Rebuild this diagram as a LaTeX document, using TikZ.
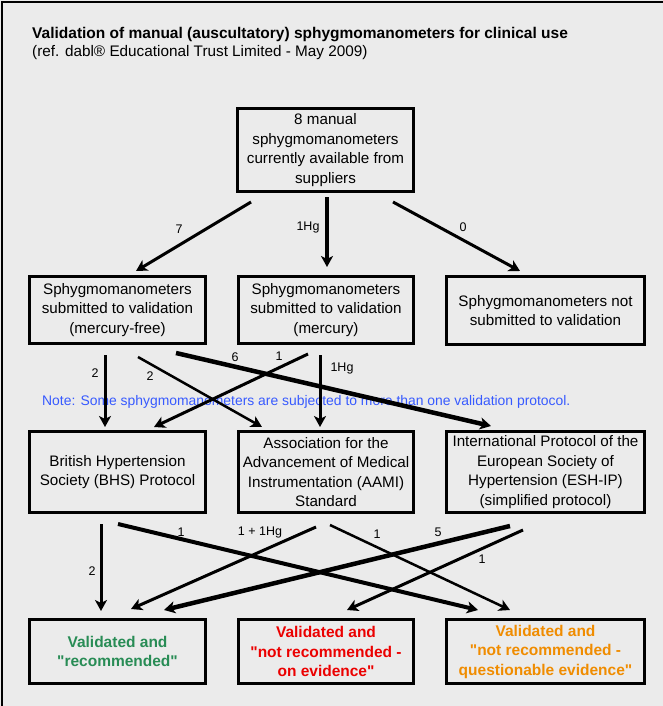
\documentclass[tikz,border=0pt]{standalone}
\usepackage{fontspec}
\setmainfont{Liberation Sans}
\newfontfamily\plainsans{Liberation Sans}
\usetikzlibrary{arrows.meta}
\definecolor{bg}{HTML}{EBEBEB}
\definecolor{okgreen}{RGB}{40,140,85}
\definecolor{nored}{RGB}{235,0,0}
\definecolor{qorange}{RGB}{240,140,0}
\definecolor{noteblue}{RGB}{55,90,255}
\begin{document}
\begin{tikzpicture}[x=1pt,y=-1pt,
 box/.style={draw=black, line width=3pt, fill=bg, align=center, inner sep=2pt, font=\fontsize{15.2}{19.5}\selectfont},
 res/.style={box, font=\plainsans\fontsize{15.5}{19.5}\selectfont\bfseries},
 arr/.style={line width=3pt, -{Stealth[length=11pt,width=12pt,inset=3pt]}},
 lbl/.style={font=\fontsize{12.5}{14}\selectfont, inner sep=0pt}]
\useasboundingbox (0,0) rectangle (663,706);
\fill[bg] (0,0) rectangle (663,706);
\draw[line width=2pt] (2,706) -- (2,2.5) -- (663,2.5);

\node[anchor=base west, inner sep=0pt, font=\fontsize{15.5}{17}\selectfont\bfseries] (title) at (32,39) {Validation of manual (auscultatory) sphygmomanometers for clinical use};
\node[anchor=base west, inner sep=0pt, font=\fontsize{15.3}{17}\selectfont] (subtitle) at (32,57) {(ref. dabl® Educational Trust Limited - May 2009)};

\node[box, minimum width=176pt, minimum height=83pt] (src) at (325.5,150) {8 manual\\sphygmomanometers\\currently available from\\suppliers};

\node[box, minimum width=176pt, minimum height=67pt] (mfree) at (117.5,310) {Sphygmomanometers\\submitted to validation\\(mercury-free)};
\node[box, minimum width=175pt, minimum height=67pt] (merc) at (326,310) {Sphygmomanometers\\submitted to validation\\(mercury)};
\node[box, minimum width=198pt, minimum height=68pt] (notsub) at (545.5,310.5) {Sphygmomanometers not\\submitted to validation};

\node[box, minimum width=176pt, minimum height=81pt] (bhs) at (117.5,472) {British Hypertension\\Society (BHS) Protocol};
\node[box, minimum width=175pt, minimum height=81pt] (aami) at (326,472) {Association for the\\Advancement of Medical\\Instrumentation (AAMI)\\Standard};
\node[box, minimum width=198pt, minimum height=81pt] (esh) at (545.5,472) {International Protocol of the\\European Society of\\Hypertension (ESH-IP)\\(simplified protocol)};

\node[res, text=okgreen, minimum width=176pt, minimum height=64pt] (rec) at (117.5,651.5) {Validated and\\"recommended"};
\node[res, text=nored, minimum width=175pt, minimum height=64pt] (notrec) at (326,651.5) {Validated and\\"not recommended -\\on evidence"};
\node[res, text=qorange, minimum width=198pt, minimum height=64pt] (quest) at (545.5,651.5) {Validated and\\"not recommended -\\questionable evidence"};

\node[anchor=base west, inner sep=0pt, text=noteblue, font=\fontsize{13.9}{16}\selectfont] (note) at (42,405) {Note: Some sphygmomanometers are subjected to more than one validation protocol.};

% row 1 -> row 2
\coordinate (a1s) at (251,202); \coordinate (a1e) at (136,271);
\coordinate (a2s) at (327,197); \coordinate (a2e) at (327,267);
\coordinate (a3s) at (393,202); \coordinate (a3e) at (520,271);
\draw[arr] (a1s) -- (a1e);
\draw[arr, line width=3.5pt] (a2s) -- (a2e);
\draw[arr] (a3s) -- (a3e);
\node[lbl] (l1) at (179,229) {7};
\node[lbl] (l2) at (308,227) {1Hg};
\node[lbl] (l3) at (463,227) {0};

% row 2 -> row 3
\coordinate (b1s) at (105,355); \coordinate (b1e) at (105,427);
\coordinate (b2s) at (138,357); \coordinate (b2e) at (262,427);
\coordinate (b3s) at (176,353); \coordinate (b3e) at (491,426);
\coordinate (b4s) at (308,354); \coordinate (b4e) at (154,427);
\coordinate (b5s) at (320,355); \coordinate (b5e) at (320,427);
\draw[arr] (b1s) -- (b1e);
\draw[arr, line width=2.5pt] (b2s) -- (b2e);
\draw[arr, line width=4.5pt] (b3s) -- (b3e);
\draw[arr] (b4s) -- (b4e);
\draw[arr] (b5s) -- (b5e);
\node[lbl] (m1) at (95,373) {2};
\node[lbl] (m2) at (150,376) {2};
\node[lbl] (m3) at (235,357) {6};
\node[lbl] (m4) at (279,356) {1};
\node[lbl] (m5) at (342,368) {1Hg};

% row 3 -> row 4
\coordinate (c1s) at (101,524); \coordinate (c1e) at (101,611);
\coordinate (c2s) at (118,524); \coordinate (c2e) at (478,610);
\coordinate (c3s) at (316,527); \coordinate (c3e) at (131,609);
\coordinate (c4s) at (330,525); \coordinate (c4e) at (510,610);
\coordinate (c5s) at (510,526); \coordinate (c5e) at (164,610);
\coordinate (c6s) at (523,530); \coordinate (c6e) at (347,610);
\draw[arr] (c1s) -- (c1e);
\draw[arr, line width=4pt] (c2s) -- (c2e);
\draw[arr] (c3s) -- (c3e);
\draw[arr, line width=2.5pt] (c4s) -- (c4e);
\draw[arr, line width=4.5pt] (c5s) -- (c5e);
\draw[arr] (c6s) -- (c6e);
\node[lbl] (n1) at (92,571) {2};
\node[lbl] (n2) at (181,532) {1};
\node[lbl] (n3) at (260,532) {1 + 1Hg};
\node[lbl] (n4) at (377,534) {1};
\node[lbl] (n5) at (438,532) {5};
\node[lbl] (n6) at (482,559) {1};
\end{tikzpicture}
\end{document}
